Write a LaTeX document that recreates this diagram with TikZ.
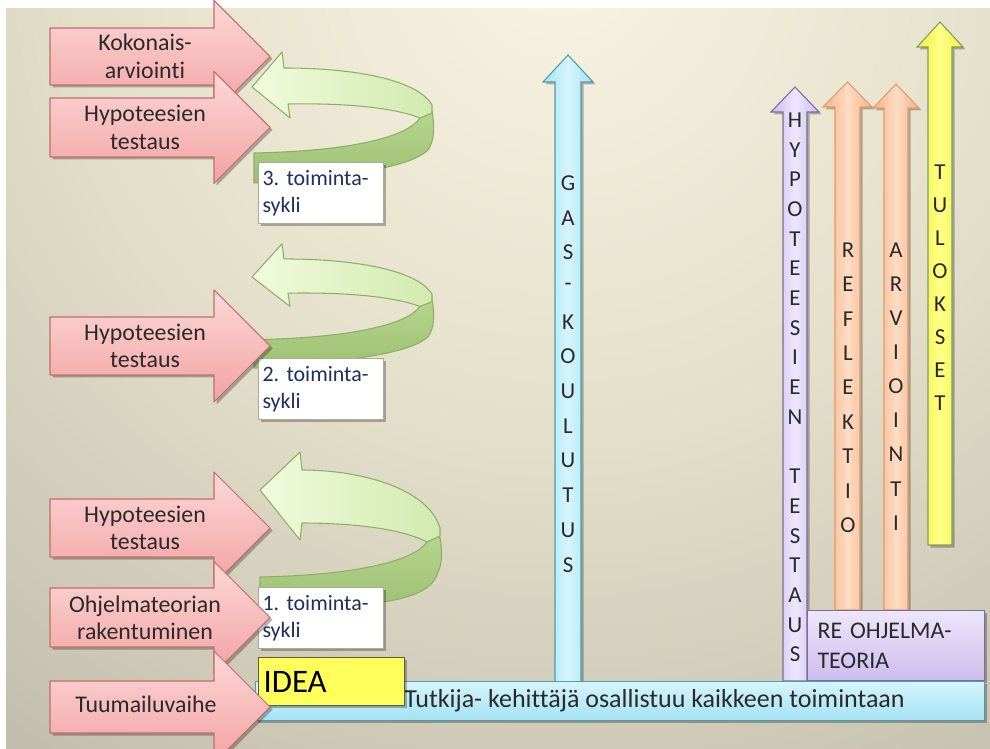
\documentclass[tikz,border=0pt]{standalone}
\usepackage{fontspec}
\setmainfont{Carlito}[Ligatures={NoCommon}]
\frenchspacing
\usetikzlibrary{shadows}

\definecolor{bgA}{HTML}{F8F4E2}
\definecolor{bgB}{HTML}{E4DFCA}
\definecolor{bgC}{HTML}{C8C4B2}
\definecolor{bgD}{HTML}{A8A494}
\definecolor{bgE}{HTML}{8A8678}
\definecolor{pinkA}{HTML}{FDD8D8}
\definecolor{pinkB}{HTML}{F2A2A2}
\definecolor{pinkEdge}{HTML}{C46C6C}
\definecolor{greenA}{HTML}{F0FBDD}
\definecolor{greenB}{HTML}{D2EAAE}
\definecolor{greenC}{HTML}{B6D58E}
\definecolor{greenD}{HTML}{9CC072}
\definecolor{greenEdge}{HTML}{8DAE66}
\definecolor{cyanA}{HTML}{D6F5FC}
\definecolor{cyanB}{HTML}{A4E2F4}
\definecolor{cyanEdge}{HTML}{4A9EB2}
\definecolor{lilacA}{HTML}{EEE6FC}
\definecolor{lilacB}{HTML}{CDBCEC}
\definecolor{lilacEdge}{HTML}{7C6C9C}
\definecolor{peachA}{HTML}{FDDCC4}
\definecolor{peachB}{HTML}{F9B486}
\definecolor{peachEdge}{HTML}{E29A6A}
\definecolor{lemonA}{HTML}{FFFF88}
\definecolor{lemonB}{HTML}{F2F23E}
\definecolor{lemonEdge}{HTML}{7E9C66}
\definecolor{ideaFill}{HTML}{FFFF5C}
\definecolor{ideaEdge}{HTML}{5C5C3C}
\definecolor{boxEdge}{HTML}{A6AE96}
\definecolor{navyText}{HTML}{1F2F5E}
\definecolor{darkText}{HTML}{2A2A2A}

\pgfdeclareradialshading{bgglow}{\pgfpoint{0bp}{0bp}}{%
  color(0bp)=(bgA); color(12bp)=(bgB); color(22bp)=(bgC);
  color(32bp)=(bgD); color(45bp)=(bgE); color(50bp)=(bgE)}

% block arrow pointing right: centre y, half height of the body
\newcommand{\rightblock}[2]{%
  \path[pinkshape] (50,#1-#2) -- (214,#1-#2) -- (214,#1-56) -- (270,#1)
    -- (214,#1+56) -- (214,#1+#2) -- (50,#1+#2) -- cycle;}

% upward arrow: style, shaft left/right, head left/right, head base y, tip y, bottom y
\newcommand{\vertarrow}[8]{%
  \path[#1] (#2,#8) -- (#2,#6) -- (#4,#6) -- ({(#2+#3)/2},#7) -- (#5,#6)
    -- (#3,#6) -- (#3,#8) -- cycle;}

% letters stacked one under another: name, x, first y, step, letters
\newcommand{\stackletters}[5]{%
  \foreach \ch [count=\k from 0] in {#5}
    \node[vletter] (#1-\k) at (#2,#3+\k*#4) {\ch};}

% curved return arrow of one cycle, tip at the local origin
\newcommand{\cycleloop}{%
  \path[greendark] (180,24) .. controls (183,40) and (182,55) .. (176,63)
    .. controls (160,78) and (115,88) .. (2,96) -- (2,66)
    .. controls (100,64) and (155,50) .. (168,31) -- cycle;
  \path[greenlight] (0,0) -- (30,-35) -- (32,-19)
    .. controls (100,-19) and (165,-8) .. (180,18) -- (180,26) -- (168,31)
    .. controls (140,20) and (90,16) .. (36,17) -- (38,31) -- cycle;}

\begin{document}
\begin{tikzpicture}[x=0.02cm, y=-0.02cm,
  softshadow/.style={drop shadow={shadow xshift=0.05cm, shadow yshift=-0.05cm, opacity=0.28, fill=black}},
  pinkshape/.style={draw=pinkEdge, line width=0.6pt, line join=round, top color=pinkA, bottom color=pinkB, softshadow},
  pinktext/.style={align=center, inner sep=0, text=darkText, font=\fontsize{13.6}{15.6}\selectfont},
  greenlight/.style={draw=greenEdge, line width=0.6pt, line join=round, left color=greenA, right color=greenB},
  greendark/.style={draw=greenEdge, line width=0.6pt, line join=round, top color=greenC, bottom color=greenD},
  cyclebox/.style={rectangle, draw=boxEdge, line width=0.6pt, fill=white, minimum height=1.22cm,
    text width=2.34cm, inner xsep=0.08cm, inner ysep=0, align=left, text=navyText,
    font=\fontsize{12.5}{15.3}\selectfont, anchor=north west, softshadow},
  ideabox/.style={rectangle, draw=ideaEdge, line width=0.6pt, fill=ideaFill, minimum height=0.96cm,
    text width=2.72cm, inner xsep=0.1cm, inner ysep=0, align=left,
    font=\fontsize{18.7}{20}\selectfont, anchor=north west, softshadow},
  gasarrow/.style={draw=cyanEdge, line width=0.6pt, left color=cyanB, right color=cyanB, middle color=cyanA, softshadow},
  lilacarrow/.style={draw=lilacEdge, line width=0.6pt, left color=lilacB, right color=lilacB, middle color=lilacA, softshadow},
  peacharrow/.style={draw=peachEdge, line width=0.6pt, left color=peachB, right color=peachB, middle color=peachA, softshadow},
  lemonarrow/.style={draw=lemonEdge, line width=0.6pt, left color=lemonB, right color=lemonB, middle color=lemonA, softshadow},
  barbox/.style={rectangle, draw=cyanEdge, line width=0.6pt, top color=cyanA, bottom color=cyanB,
    minimum width=14.58cm, minimum height=0.78cm, inner sep=0, anchor=north west, softshadow},
  bartext/.style={anchor=west, inner sep=0, text=darkText, font=\fontsize{14.8}{16}\selectfont},
  rebox/.style={rectangle, draw=lilacEdge, line width=0.6pt, top color=lilacA, bottom color=lilacB,
    minimum height=1.4cm, text width=3.14cm, inner xsep=0.2cm, inner ysep=0, align=left,
    text=darkText, font=\fontsize{13.6}{17}\selectfont, anchor=north west, softshadow},
  vletter/.style={inner sep=0, text=darkText, font=\fontsize{13}{15}\selectfont}]

\useasboundingbox (0,0) rectangle (990,749);
\clip (0,0) rectangle (990,749);
\fill[white] (0,0) rectangle (990,749);

% background glow
\begin{scope}
  \clip (6,9) rectangle (990,749);
  \shade[shading=bgglow] (560,-40) circle[radius=20cm];
\end{scope}

% upward arrows
\vertarrow{gasarrow}{555}{581}{543}{593}{82}{55}{682}
\vertarrow{lilacarrow}{783}{807}{771}{819}{112}{87}{681}
\vertarrow{peacharrow}{835}{860}{823}{872}{107}{82}{610}
\vertarrow{peacharrow}{884}{908}{873}{919}{108}{84}{610}
\vertarrow{lemonarrow}{928}{952}{917}{963}{47}{22}{545}

\stackletters{gas}{568}{183}{34.7}{G,A,S,-,K,O,U,L,U,T,U,S}
\stackletters{hyp}{795}{120}{29.7}{H,Y,P,O,T,E,E,S,I,E,N,{},T,E,S,T,A,U,S}
\stackletters{ref}{848}{250}{34.4}{R,E,F,L,E,K,T,I,O}
\stackletters{arv}{896}{250}{34.1}{A,R,V,I,O,I,N,T,I}
\stackletters{tul}{940}{172}{33}{T,U,L,O,K,S,E,T}

% programme theory box
\node[rebox] (reohj) at (807,610) {RE OHJELMA-\\TEORIA};

% researcher-developer bar
\node[barbox] (bar) at (255,681) {};
\node[bartext] (bartxt) at (404,701) {Tutkija- kehittäjä osallistuu kaikkeen toimintaan};

% cycle loops
\begin{scope}[shift={(252,87)}]\cycleloop\end{scope}
\begin{scope}[shift={(252,277)}, yscale=0.95]\cycleloop\end{scope}
\begin{scope}[shift={(260,490)}]
  \path[greendark] (179,44) .. controls (183,60) and (182,75) .. (178,82)
    .. controls (172,105) and (140,118) .. (0,120) -- (0,87)
    .. controls (100,85) and (155,70) .. (167,52) -- cycle;
  \path[greenlight] (0,0) -- (40,-38) -- (42,-20)
    .. controls (100,-20) and (168,-2) .. (180,38) -- (180,46) -- (167,52)
    .. controls (140,38) and (90,33) .. (42,33) -- (40,50) -- cycle;
\end{scope}

% cycle labels
\node[cyclebox] (cyc3) at (258,162) {3. toiminta-\\sykli};
\node[cyclebox] (cyc2) at (258,358) {2. toiminta-\\sykli};
\node[cyclebox] (cyc1) at (258,587) {1. toiminta-\\sykli};

% idea box
\node[ideabox] (idea) at (258,657) {IDEA};

% phase arrows, top to bottom
\rightblock{56.5}{28.5}
\node[pinktext] (kok) at (145,56.5) {Kokonais-\\arviointi};
\rightblock{127.5}{29.5}
\node[pinktext] (hyp3) at (145,127.5) {Hypoteesien\\testaus};
\rightblock{346}{29}
\node[pinktext] (hyp2) at (145,346) {Hypoteesien\\testaus};
\rightblock{528}{29}
\node[pinktext] (hyp1) at (145,528) {Hypoteesien\\testaus};
\rightblock{617.5}{29.5}
\node[pinktext] (ohj) at (145,617.5) {Ohjelmateorian\\rakentuminen};
\rightblock{707}{26}
\node[pinktext] (tuum) at (146,704) {Tuumailuvaihe};

\end{tikzpicture}
\end{document}
